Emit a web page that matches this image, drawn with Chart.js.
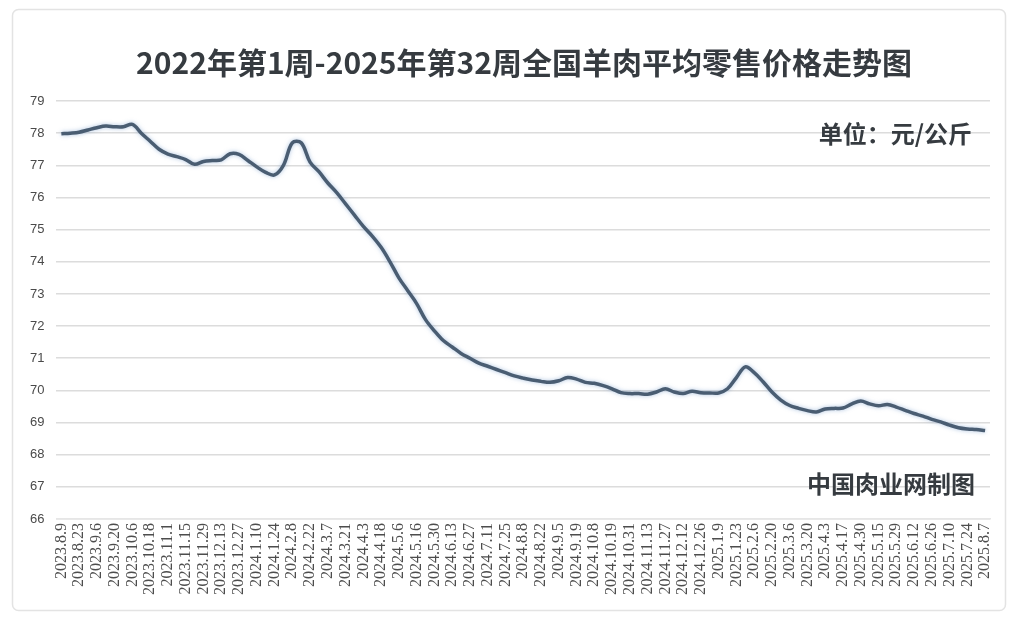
<!DOCTYPE html>
<html>
<head>
<meta charset="utf-8">
<script src="https://cdn.jsdelivr.net/npm/chart.js@4.4.1/dist/chart.umd.min.js"></script>
<style>
  html, body { margin: 0; padding: 0; background: #fff; }
  #wrap { width: 1018px; height: 622px; position: relative; }
</style>
</head>
<body>
<div id="wrap"><canvas id="myChart" width="1018" height="622"></canvas></div>
<script>
const chartTitle = '2022年第1周-2025年第32周全国羊肉平均零售价格走势图'
const unitText = '单位：元/公斤'
const sourceText = '中国肉业网制图'

// tick labels, one every two weeks
const tickLabels = [
    '2023.8.9', '2023.8.23', '2023.9.6', '2023.9.20', '2023.10.6', '2023.10.18', '2023.11.1',
    '2023.11.15', '2023.11.29', '2023.12.13', '2023.12.27', '2024.1.10', '2024.1.24', '2024.2.8',
    '2024.2.22', '2024.3.7', '2024.3.21', '2024.4.3', '2024.4.18', '2024.5.6', '2024.5.16',
    '2024.5.30', '2024.6.13', '2024.6.27', '2024.7.11', '2024.7.25', '2024.8.8', '2024.8.22',
    '2024.9.5', '2024.9.19', '2024.10.8', '2024.10.19', '2024.10.31', '2024.11.13', '2024.11.27',
    '2024.12.12', '2024.12.26', '2025.1.9', '2025.1.23', '2025.2.6', '2025.2.20', '2025.3.6',
    '2025.3.20', '2025.4.3', '2025.4.17', '2025.4.30', '2025.5.15', '2025.5.29', '2025.6.12',
    '2025.6.26', '2025.7.10', '2025.7.24', '2025.8.7'
]

// weekly average retail price of mutton, yuan/kg
const prices = [
    77.98, 78.00, 78.03, 78.10, 78.17, 78.22, 78.20, 78.20, 78.27, 78.00,
    77.75, 77.50, 77.35, 77.27, 77.18, 77.03, 77.12, 77.15, 77.17, 77.36,
    77.34, 77.15, 76.95, 76.78, 76.70, 77.00, 77.70, 77.70, 77.10, 76.80,
    76.45, 76.15, 75.80, 75.45, 75.10, 74.80, 74.45, 74.00, 73.50, 73.10,
    72.70, 72.20, 71.85, 71.55, 71.35, 71.15, 71.00, 70.85, 70.75, 70.65,
    70.55, 70.45, 70.38, 70.32, 70.28, 70.25, 70.30, 70.40, 70.35, 70.25,
    70.22, 70.15, 70.05, 69.93, 69.90, 69.90, 69.88, 69.95, 70.05, 69.95,
    69.90, 69.97, 69.93, 69.92, 69.92, 70.05, 70.40, 70.73, 70.55, 70.27,
    69.95, 69.70, 69.53, 69.44, 69.37, 69.33, 69.42, 69.44, 69.45, 69.58,
    69.67, 69.58, 69.52, 69.56, 69.48, 69.38, 69.28, 69.20, 69.10, 69.02,
    68.92, 68.84, 68.80, 68.78, 68.75
]

const yMin = 66
const yMax = 79

const points = prices.map((v, i) => ({ x: i, y: v }))

// card frame, title and the two notes
const decor = {
    id: 'decor',
    beforeDraw(chart) {
        const ctx = chart.ctx
        ctx.save()
        ctx.fillStyle = '#ffffff'
        ctx.fillRect(0, 0, chart.width, chart.height)
        ctx.strokeStyle = '#e3e3e3'
        ctx.lineWidth = 1.5
        ctx.beginPath()
        ctx.roundRect(12.5, 9.5, 993, 601, 6)
        ctx.stroke()
        ctx.restore()
    },
    afterDraw(chart) {
        const ctx = chart.ctx
        const area = chart.chartArea
        const y = chart.scales.y
        ctx.save()
        ctx.fillStyle = '#363b40'
        ctx.textBaseline = 'middle'
        ctx.textAlign = 'center'
        ctx.font = 'bold 30px "Noto Sans CJK SC"'
        ctx.fillText(chartTitle, 524, 63)
        ctx.textAlign = 'right'
        ctx.font = 'bold 24px "Noto Sans CJK SC"'
        ctx.fillText(unitText, 972, y.getPixelForValue(78) + 1)
        ctx.fillText(sourceText, 975, y.getPixelForValue(67.1))
        ctx.restore()
    },
    beforeDatasetsDraw(chart) {
        chart.ctx.save()
        chart.ctx.shadowColor = 'rgba(110,150,200,0.55)'
        chart.ctx.shadowBlur = 4
    },
    afterDatasetsDraw(chart) {
        chart.ctx.restore()
    }
}

const ctx = document.getElementById('myChart').getContext('2d')
new Chart(ctx, {
    type: 'line',
    data: {
        datasets: [{
            label: '羊肉平均零售价格',
            data: points,
            borderColor: '#4a5d72',
            borderWidth: 3.5,
            pointRadius: 0,
            tension: 0.35,
            fill: false
        }]
    },
    options: {
        responsive: false,
        animation: false,
        layout: {
            padding: { left: 18, right: 28, top: 101, bottom: 23 }
        },
        plugins: {
            legend: { display: false },
            tooltip: { enabled: false }
        },
        scales: {
            x: {
                type: 'linear',
                min: -0.55,
                max: 104.55,
                afterBuildTicks(scale) {
                    scale.ticks = tickLabels.map((_, i) => ({ value: i * 2 }))
                },
                ticks: {
                    autoSkip: false,
                    maxRotation: 90,
                    minRotation: 90,
                    padding: 4,
                    color: '#4d4d4d',
                    font: { family: '"Liberation Serif"', size: 16 },
                    callback: v => tickLabels[Math.round(v / 2)]
                },
                grid: { display: false, drawTicks: false },
                border: { display: true, color: '#e6e6e6', width: 1.5 }
            },
            y: {
                min: yMin,
                max: yMax,
                ticks: {
                    stepSize: 1,
                    padding: 12,
                    color: '#4a4a4a',
                    font: { family: '"Liberation Sans"', size: 13 }
                },
                grid: { color: '#dcdcdc', lineWidth: 1.5, drawTicks: false },
                border: { display: false }
            }
        }
    },
    plugins: [decor]
})
</script>
</body>
</html>
